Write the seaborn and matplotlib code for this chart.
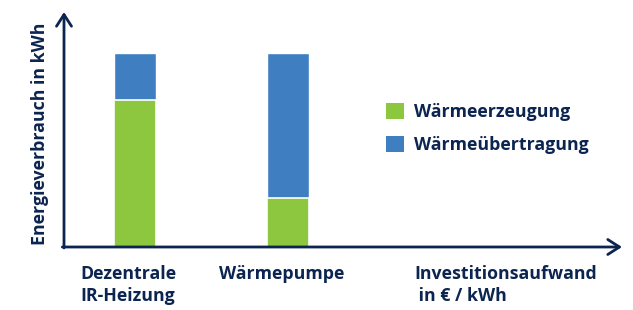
import matplotlib
matplotlib.use("Agg")
import matplotlib.pyplot as plt
import seaborn as sns
import pandas as pd
from matplotlib.patches import Patch

categories = ["Dezentrale\nIR-Heizung", "Wärmepumpe"]
waermeerzeugung = [76, 25]
waermeuebertragung = [24, 75]
series_names = ["Wärmeerzeugung", "Wärmeübertragung"]
y_label = "Energieverbrauch in kWh"
x_label = "Investitionsaufwand\n in € / kWh"

GREEN = "#8dc63f"
BLUE = "#3f7fc1"
NAVY = "#0c2550"

sns.set_theme(style="white")
plt.rcParams["font.family"] = ["Open Sans", "DejaVu Sans"]

df = pd.DataFrame({
    "cat": categories,
    "green": waermeerzeugung,
    "total": [g + b for g, b in zip(waermeerzeugung, waermeuebertragung)],
})

fig = plt.figure(figsize=(6.33, 3.10), dpi=100)
W, H = 633, 310
ax = fig.add_axes([64 / W, 63 / H, (622 - 64) / W, (247 - 12) / H])

sns.barplot(data=df, x="cat", y="total", color=BLUE, width=0.275,
            saturation=1, ax=ax, order=categories)
sns.barplot(data=df, x="cat", y="green", color=GREEN, width=0.275,
            saturation=1, ax=ax, order=categories,
            edgecolor="white", linewidth=1.2)

ax.set_xlim(-0.464, 3.183)
ax.set_ylim(0, 121.1)
for s in ax.spines.values():
    s.set_visible(False)
ax.set_xticks([])
ax.set_yticks([])
ax.set_xlabel("")
ax.set_ylabel("")

# axes with arrows
arrow_kw = dict(arrowstyle="->,head_length=0.7,head_width=0.45", color=NAVY, lw=2.0,
                shrinkA=0, shrinkB=0)
ax.annotate("", xy=(1.0, 0), xytext=(-0.003, 0), xycoords="axes fraction",
            arrowprops=arrow_kw, annotation_clip=False)
ax.annotate("", xy=(0, 1.0), xytext=(0, -0.004), xycoords="axes fraction",
            arrowprops=arrow_kw, annotation_clip=False)

# category labels
FS = 12.8
font_kw = dict(color=NAVY, fontsize=FS, fontweight="bold")
for i, c in enumerate(categories):
    ax.text(i - 0.04, -0.075, c, transform=ax.get_xaxis_transform(),
            ha="center", va="top", multialignment="left", linespacing=1.3, **font_kw)
ax.text(2.42, -0.075, x_label, transform=ax.get_xaxis_transform(),
        ha="center", va="top", multialignment="left", linespacing=1.3, **font_kw)

fig.text(40 / W, 1 - 134 / H, y_label, rotation=90, ha="center", va="center", **font_kw)

handles = [Patch(facecolor=GREEN, edgecolor="none"), Patch(facecolor=BLUE, edgecolor="none")]
leg = fig.legend(handles, series_names, loc="upper left",
                 bbox_to_anchor=(370 / W, 1 - 87 / H), frameon=False,
                 handlelength=1.0, handleheight=1.05, handletextpad=0.6,
                 labelspacing=0.8, prop={"size": FS, "weight": "bold"})
for t in leg.get_texts():
    t.set_color(NAVY)

fig.savefig("out.png", dpi=100)
